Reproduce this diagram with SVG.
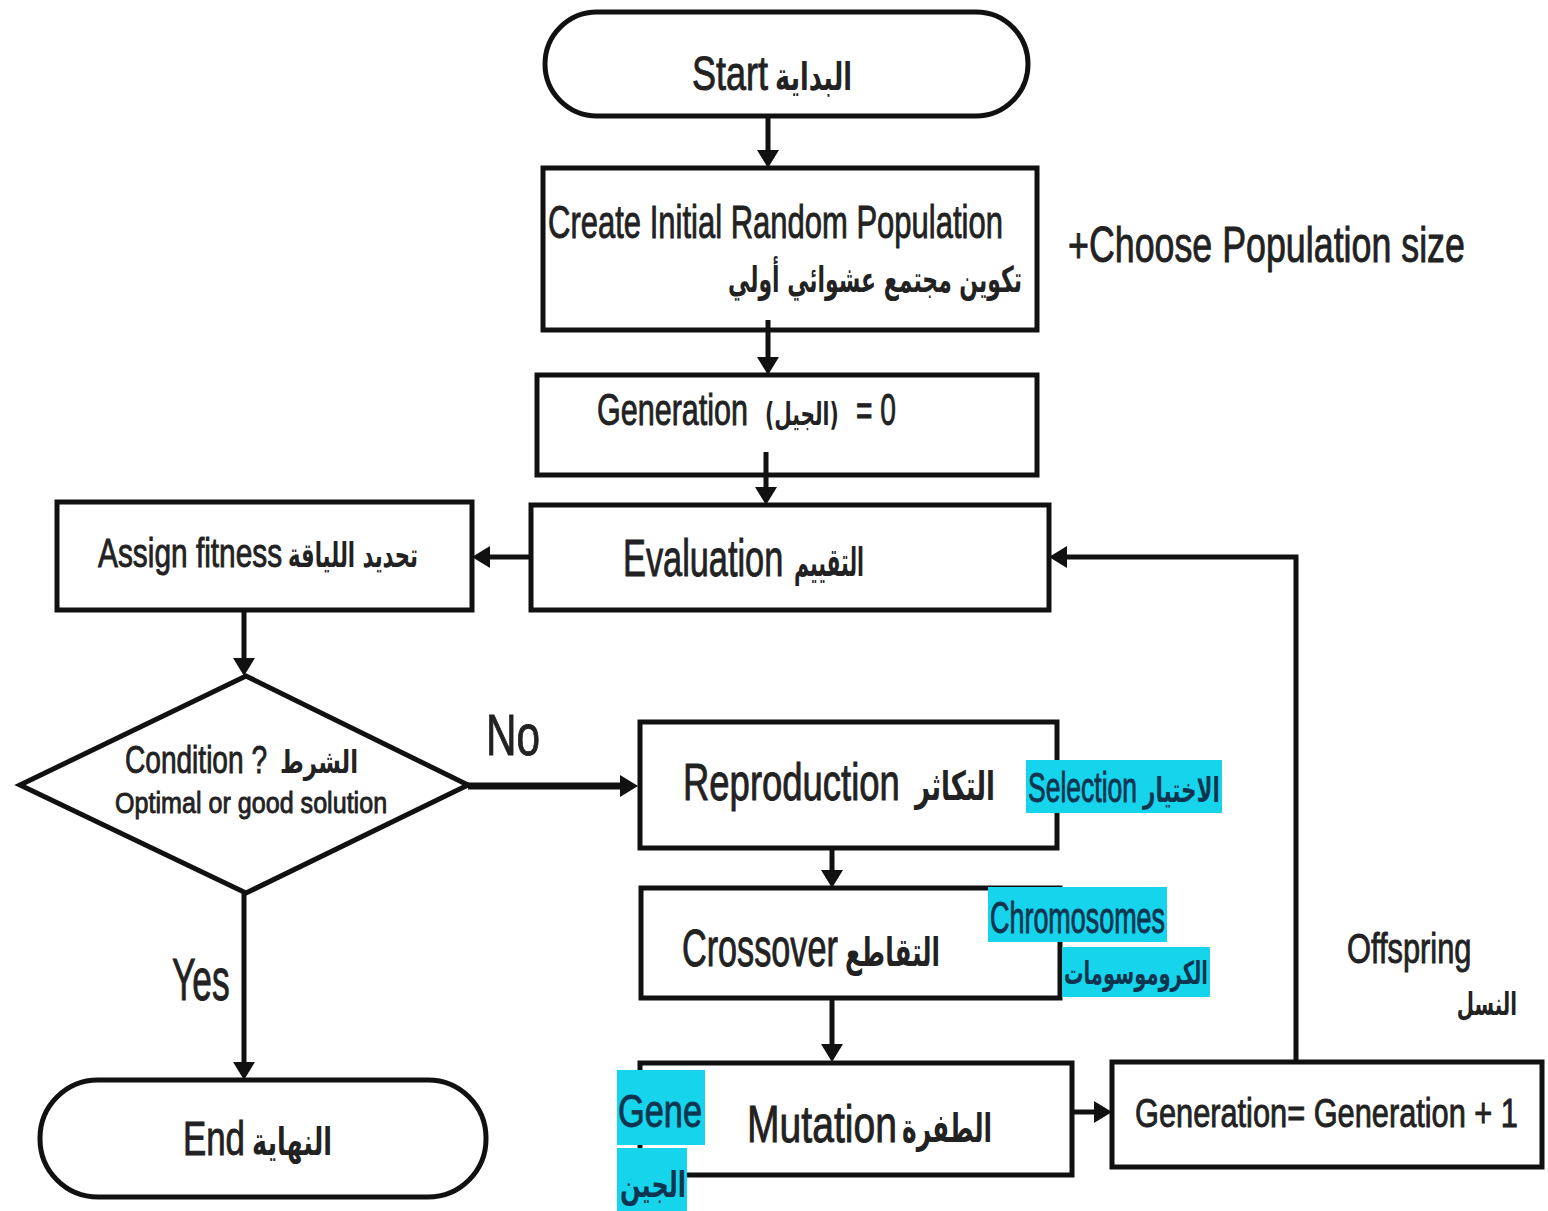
<svg xmlns="http://www.w3.org/2000/svg" width="1548" height="1211" viewBox="0 0 1548 1211">
<style>
.box{fill:#fff;stroke:#111;stroke-width:5}
.t{font-family:"Liberation Sans","DejaVu Sans",sans-serif;fill:#222;stroke:#222;stroke-width:0.9}
.ar{font-family:"DejaVu Sans","Noto Sans",sans-serif;fill:#222;font-weight:bold}
.hl{fill:#16d4ec}
.ht{fill:#0d3550;stroke:#0d3550}
.con{fill:none;stroke:#111;stroke-width:5}
</style>
<defs>
<marker id="ah" markerUnits="userSpaceOnUse" viewBox="0 0 18 22" markerWidth="18" markerHeight="22" refX="0" refY="11" orient="auto">
<path d="M0,0 L18,11 L0,22 z" fill="#111"/>
</marker>
</defs>
<rect width="1548" height="1211" fill="#fff"/>

<g id="start">
<rect class="box" x="545" y="12" width="483" height="104" rx="52"/>
<text class="t" transform="translate(692,90) scale(0.75,1)" font-size="48">Start</text>
<text class="ar" x="852" y="90" font-size="38" text-anchor="end" textLength="77" lengthAdjust="spacingAndGlyphs">البداية</text>
</g>

<g id="create">
<rect class="box" x="543" y="168" width="494" height="162"/>
<text class="t" transform="translate(548,238) scale(0.674,1)" font-size="46">Create Initial Random Population</text>
<text class="ar" x="1022" y="292" font-size="36" text-anchor="end" textLength="294" lengthAdjust="spacingAndGlyphs">تكوين مجتمع عشوائي أولي</text>
</g>

<g id="choose">
<text class="t" transform="translate(1068,262) scale(0.716,1)" font-size="50">+Choose Population size</text>
</g>

<g id="gen0">
<rect class="box" x="537" y="375" width="500" height="100"/>
<text class="t" transform="translate(597,425) scale(0.694,1)" font-size="44">Generation</text>
<text class="ar" transform="translate(765,425) scale(0.63,1)" font-size="32">(الجيل)</text>
<text class="t" transform="translate(856,425) scale(0.64,1)" font-size="44">= 0</text>
</g>

<g id="evaluation">
<rect class="box" x="531" y="505" width="518" height="105"/>
<text class="t" transform="translate(623,576) scale(0.66,1)" font-size="52">Evaluation</text>
<text class="ar" x="864" y="576" font-size="40" text-anchor="end" textLength="70" lengthAdjust="spacingAndGlyphs">التقييم</text>
</g>

<g id="assign">
<rect class="box" x="57" y="502" width="415" height="108"/>
<text class="t" transform="translate(98,567) scale(0.728,1)" font-size="41">Assign fitness</text>
<text class="ar" x="418" y="567" font-size="34" text-anchor="end" textLength="130" lengthAdjust="spacingAndGlyphs">تحديد اللياقة</text>
</g>

<g id="condition">
<polygon class="box" points="20,785 246,676 468,785 246,893"/>
<text class="t" transform="translate(125,773) scale(0.72,1)" font-size="39">Condition ?</text>
<text class="ar" x="358" y="773" font-size="32" text-anchor="end" textLength="78" lengthAdjust="spacingAndGlyphs">الشرط</text>
<text class="t" transform="translate(115,813) scale(0.837,1)" font-size="30">Optimal or good solution</text>
</g>

<g id="reproduction">
<rect class="box" x="640" y="722" width="417" height="126"/>
<text class="t" transform="translate(683,800) scale(0.715,1)" font-size="51">Reproduction</text>
<text class="ar" x="995" y="800" font-size="40" text-anchor="end" textLength="80" lengthAdjust="spacingAndGlyphs">التكاثر</text>
</g>

<g id="selection">
<rect class="hl" x="1026" y="760" width="196" height="53"/>
<text class="t ht" transform="translate(1028,802) scale(0.631,1)" font-size="42">Selection</text>
<text class="ar ht" x="1220" y="802" font-size="34" text-anchor="end" textLength="77" lengthAdjust="spacingAndGlyphs" style="stroke:none">الاختيار</text>
</g>

<g id="crossover">
<rect class="box" x="641" y="888" width="419" height="110"/>
<text class="t" transform="translate(682,966) scale(0.671,1)" font-size="51">Crossover</text>
<text class="ar" x="940" y="966" font-size="40" text-anchor="end" textLength="95" lengthAdjust="spacingAndGlyphs">التقاطع</text>
</g>

<g id="chromosomes">
<rect class="hl" x="988" y="887" width="179" height="55"/>
<text class="t ht" transform="translate(990,933) scale(0.612,1)" font-size="44">Chromosomes</text>
<rect class="hl" x="1062" y="947" width="148" height="50"/>
<text class="ar ht" x="1208" y="984" font-size="32" text-anchor="end" textLength="144" lengthAdjust="spacingAndGlyphs" style="stroke:none">الكروموسومات</text>
</g>

<g id="mutation">
<rect class="box" x="640" y="1063" width="432" height="112"/>
<text class="t" transform="translate(747,1142) scale(0.752,1)" font-size="52">Mutation</text>
<text class="ar" x="992" y="1142" font-size="40" text-anchor="end" textLength="90" lengthAdjust="spacingAndGlyphs">الطفرة</text>
</g>

<g id="gene">
<rect class="hl" x="617" y="1070" width="88" height="75"/>
<text class="t ht" transform="translate(618,1127) scale(0.747,1)" font-size="46">Gene</text>
<rect class="hl" x="617" y="1148" width="70" height="63"/>
<text class="ar ht" x="686" y="1197" font-size="36" text-anchor="end" textLength="66" lengthAdjust="spacingAndGlyphs" style="stroke:none">الجين</text>
</g>

<g id="genplus">
<rect class="box" x="1112" y="1062" width="430" height="105"/>
<text class="t" transform="translate(1135,1127) scale(0.769,1)" font-size="40">Generation= Generation + 1</text>
</g>

<g id="offspring">
<text class="t" transform="translate(1347,963) scale(0.734,1)" font-size="42">Offspring</text>
<text class="ar" transform="translate(1517,1015) scale(0.62,1)" font-size="32" text-anchor="end">النسل</text>
</g>

<g id="end">
<rect class="box" x="40" y="1080" width="446" height="117" rx="58"/>
<text class="t" transform="translate(183,1155) scale(0.726,1)" font-size="48">End</text>
<text class="ar" x="332" y="1155" font-size="38" text-anchor="end" textLength="80" lengthAdjust="spacingAndGlyphs">النهاية</text>
</g>

<g id="labels">
<text class="t" transform="translate(486,755) scale(0.729,1)" font-size="58">No</text>
<text class="t" transform="translate(172,1000) scale(0.59,1)" font-size="60">Yes</text>
</g>

<g id="connectors">
<path class="con" d="M768,116 V150" marker-end="url(#ah)"/>
<path class="con" d="M768,320 V357" marker-end="url(#ah)"/>
<path class="con" d="M766,452 V487" marker-end="url(#ah)"/>
<path class="con" d="M531,557 H490" marker-end="url(#ah)"/>
<path class="con" d="M244,610 V658" marker-end="url(#ah)"/>
<path class="con" d="M468,786 H620" style="stroke-width:7" marker-end="url(#ah)"/>
<path class="con" d="M832,848 V870" marker-end="url(#ah)"/>
<path class="con" d="M832,998 V1044" marker-end="url(#ah)"/>
<path class="con" d="M1072,1112 H1094" marker-end="url(#ah)"/>
<path class="con" d="M1296,1062 V557 H1067" marker-end="url(#ah)"/>
<path class="con" d="M244,893 V1062" marker-end="url(#ah)"/>
</g>
</svg>
